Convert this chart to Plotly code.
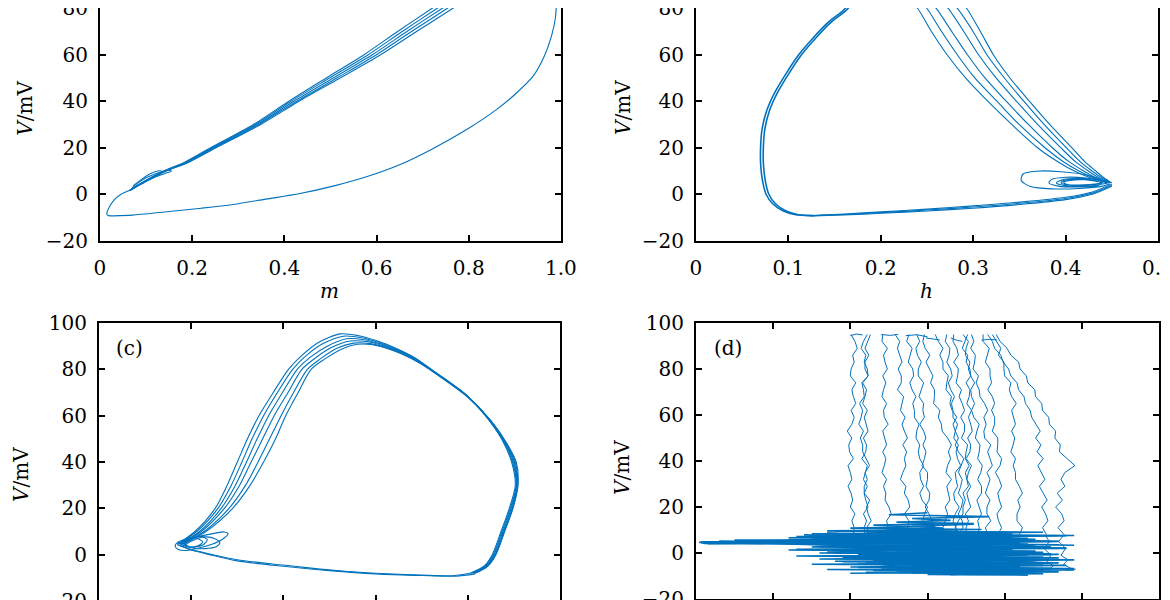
import plotly.graph_objects as go

# ---------- panel (a): V against m ----------
a_low_m = [0.030, 0.070, 0.145, 0.220, 0.289, 0.360, 0.434, 0.510, 0.578, 0.650, 0.720, 0.800, 0.860, 0.900, 0.940, 0.965, 0.980, 0.988, 0.990]
a_low_v = [-9.2, -8.9, -7.4, -5.9, -4.3, -2.0, 0.4, 3.8, 7.6, 12.8, 19.5, 28.5, 36.5, 43.0, 51.0, 60.0, 68.5, 76.0, 82.0]
a_turn_m = [0.065, 0.045, 0.030, 0.020, 0.015, 0.018, 0.030]
a_turn_v = [1.8, 0.0, -2.5, -5.5, -8.3, -9.0, -9.2]
a_up_v = [82, 80, 70, 60, 50, 40, 30, 20, 14, 10, 7, 4, 1.8]
a_up1 = [0.735, 0.720, 0.645, 0.572, 0.490, 0.409, 0.332, 0.239, 0.185, 0.137, 0.108, 0.082, 0.065]
a_up2 = [0.746, 0.731, 0.655, 0.581, 0.497, 0.414, 0.336, 0.242, 0.187, 0.139, 0.109, 0.083, 0.065]
a_up3 = [0.757, 0.742, 0.665, 0.590, 0.505, 0.420, 0.340, 0.245, 0.190, 0.140, 0.110, 0.083, 0.065]
a_up4 = [0.768, 0.753, 0.675, 0.599, 0.513, 0.426, 0.344, 0.248, 0.192, 0.141, 0.111, 0.084, 0.065]
a_up5 = [0.780, 0.765, 0.686, 0.608, 0.520, 0.431, 0.348, 0.251, 0.194, 0.143, 0.112, 0.084, 0.065]
a_loop1_m = [0.065, 0.090, 0.120, 0.145, 0.155, 0.150, 0.130, 0.100, 0.080, 0.068]
a_loop1_v = [1.8, 4.5, 7.5, 9.3, 10.0, 10.4, 9.6, 7.2, 4.6, 2.5]
a_loop2_m = [0.070, 0.095, 0.120, 0.135, 0.130, 0.110, 0.090, 0.072]
a_loop2_v = [2.5, 5.5, 8.2, 9.6, 10.2, 9.0, 6.5, 3.8]

# ---------- panel (b): V against h ----------
b_left1_h = [0.125, 0.108, 0.094, 0.083, 0.076, 0.072, 0.0700, 0.0700, 0.0715, 0.0765, 0.0855, 0.0975, 0.111, 0.126, 0.143, 0.159, 0.166]
b_left2_h = [0.127, 0.111, 0.097, 0.086, 0.079, 0.075, 0.0730, 0.0730, 0.0745, 0.0795, 0.0885, 0.1005, 0.114, 0.129, 0.146, 0.162, 0.169]
b_left_v = [-9.1, -8.7, -7.0, -4.0, 0.0, 6.0, 13.0, 21.0, 28.0, 36.0, 44.0, 52.0, 60.0, 67.0, 74.0, 79.0, 82.0]
b_right_v = [82, 80, 70, 60, 50, 40, 30, 20, 14, 10, 7, 5]
b_right1 = [0.235, 0.240, 0.255, 0.272, 0.292, 0.316, 0.342, 0.370, 0.392, 0.410, 0.428, 0.445]
b_right2 = [0.245, 0.250, 0.266, 0.283, 0.302, 0.326, 0.350, 0.378, 0.398, 0.415, 0.431, 0.446]
b_right3 = [0.255, 0.260, 0.277, 0.294, 0.313, 0.336, 0.360, 0.386, 0.404, 0.420, 0.434, 0.447]
b_right4 = [0.268, 0.273, 0.290, 0.306, 0.325, 0.347, 0.370, 0.395, 0.411, 0.425, 0.437, 0.448]
b_right5 = [0.278, 0.283, 0.300, 0.315, 0.334, 0.355, 0.377, 0.401, 0.416, 0.429, 0.440, 0.449]
b_right6 = [0.288, 0.293, 0.308, 0.322, 0.340, 0.361, 0.383, 0.407, 0.421, 0.433, 0.442, 0.450]
b_low_h = [0.450, 0.430, 0.400, 0.350, 0.300, 0.250, 0.200, 0.160, 0.135, 0.125]
b_low1_v = [4.5, 1.2, -1.2, -3.3, -4.9, -6.3, -7.5, -8.4, -8.9, -9.1]
b_low2_v = [3.5, 0.2, -2.2, -4.3, -5.9, -7.1, -8.1, -8.8, -9.1, -9.2]
b_low3_v = [4.0, 0.7, -1.7, -3.8, -5.4, -6.7, -7.8, -8.6, -9.0, -9.15]
b_sp1_h = [0.447, 0.425, 0.395, 0.368, 0.354, 0.352, 0.362, 0.385, 0.415, 0.440, 0.448]
b_sp1_v = [5.0, 8.2, 9.8, 10.0, 8.8, 6.0, 3.4, 2.4, 2.6, 3.6, 4.6]
b_sp2_h = [0.446, 0.420, 0.400, 0.385, 0.382, 0.392, 0.410, 0.435, 0.440, 0.420, 0.398, 0.390, 0.400, 0.425, 0.445]
b_sp2_v = [5.5, 7.2, 7.4, 6.5, 5.0, 3.6, 3.2, 3.8, 5.8, 6.8, 6.5, 5.0, 3.8, 3.6, 4.8]
b_sp3_h = [0.440, 0.415, 0.400, 0.395, 0.405, 0.425, 0.438, 0.430, 0.410, 0.398, 0.402, 0.420, 0.440]
b_sp3_v = [5.0, 6.6, 6.2, 5.0, 4.0, 4.0, 5.0, 6.2, 6.3, 5.3, 4.3, 4.2, 5.0]

# ---------- panel (c) ----------
c_loop_v1 = [4.5, 10, 20, 30, 40, 50, 60, 70, 80, 86, 91.5, 95.3, 94.5, 92.3, 89, 85, 80, 70, 60, 50, 40, 30, 20, 10, 0, -5, -8]
c_loop_x1 = [0.170, 0.208, 0.252, 0.278, 0.300, 0.322, 0.347, 0.378, 0.411, 0.440, 0.475, 0.523, 0.563, 0.603, 0.645, 0.685, 0.720, 0.790, 0.838, 0.873, 0.895, 0.903, 0.890, 0.872, 0.853, 0.835, 0.805]
c_loop_v2 = [4.5, 10, 20, 30, 40, 50, 60, 70, 80, 86, 91, 94.3, 93.6, 91.6, 88.5, 84.5, 79.5, 69.5, 59.5, 49.5, 40, 30, 20, 10, 0, -5, -8]
c_loop_x2 = [0.172, 0.212, 0.258, 0.287, 0.310, 0.332, 0.357, 0.387, 0.420, 0.450, 0.485, 0.530, 0.570, 0.607, 0.648, 0.688, 0.724, 0.793, 0.841, 0.876, 0.897, 0.905, 0.892, 0.874, 0.855, 0.837, 0.807]
c_loop_v3 = [4.5, 10, 20, 30, 40, 50, 60, 70, 80, 85.5, 90, 93.2, 92.8, 91, 88, 84, 79, 69, 59, 49, 40, 30, 20, 10, 0, -5, -8]
c_loop_x3 = [0.175, 0.218, 0.265, 0.296, 0.320, 0.343, 0.368, 0.398, 0.430, 0.460, 0.495, 0.537, 0.575, 0.610, 0.650, 0.690, 0.727, 0.796, 0.844, 0.879, 0.899, 0.906, 0.894, 0.876, 0.857, 0.839, 0.810]
c_loop_v4 = [4.5, 10, 20, 30, 40, 50, 60, 70, 80, 85, 89.5, 92.2, 92, 90.4, 87.5, 83.5, 78.5, 68.5, 58.5, 48.5, 40, 30, 20, 10, 0, -5, -8]
c_loop_x4 = [0.178, 0.222, 0.272, 0.305, 0.330, 0.355, 0.380, 0.410, 0.440, 0.470, 0.505, 0.545, 0.580, 0.613, 0.652, 0.692, 0.730, 0.799, 0.847, 0.882, 0.901, 0.907, 0.896, 0.878, 0.859, 0.841, 0.812]
c_loop_v5 = [4.5, 10, 20, 30, 40, 50, 60, 70, 80, 84.5, 89, 91.3, 91.2, 89.8, 87, 83, 78, 68, 58, 48, 40, 30, 20, 10, 0, -5, -8]
c_loop_x5 = [0.180, 0.228, 0.282, 0.318, 0.345, 0.370, 0.395, 0.422, 0.452, 0.480, 0.515, 0.552, 0.585, 0.616, 0.655, 0.694, 0.732, 0.801, 0.849, 0.884, 0.903, 0.908, 0.897, 0.879, 0.860, 0.842, 0.814]
c_loop_v6 = [4.5, 10, 20, 30, 40, 50, 60, 70, 80, 84.5, 88.6, 90.8, 90.7, 89.3, 86.5, 82.5, 77.5, 67.5, 57.5, 47.5, 40, 30, 20, 10, 0, -5, -8]
c_loop_x6 = [0.182, 0.232, 0.290, 0.328, 0.357, 0.383, 0.405, 0.432, 0.460, 0.490, 0.525, 0.560, 0.590, 0.620, 0.658, 0.697, 0.735, 0.803, 0.851, 0.886, 0.905, 0.909, 0.898, 0.880, 0.861, 0.843, 0.816]
c_bot1_x = [0.805, 0.765, 0.700, 0.600, 0.540, 0.450, 0.400, 0.300, 0.240, 0.200, 0.175]
c_bot1_v = [-8.0, -9.1, -8.8, -8.0, -7.3, -5.6, -4.5, -2.2, 0.3, 2.2, 4.0]
c_bot2_x = [0.816, 0.775, 0.700, 0.600, 0.500, 0.400, 0.300, 0.240, 0.200, 0.170]
c_bot2_v = [-8.3, -9.3, -9.0, -8.3, -6.9, -5.0, -2.7, 0.0, 2.0, 4.3]
c_sp1_x = [0.170, 0.190, 0.220, 0.250, 0.272, 0.280, 0.270, 0.245, 0.215, 0.190, 0.172, 0.165, 0.172, 0.195, 0.225, 0.250, 0.262, 0.255, 0.230, 0.200, 0.180, 0.170]
c_sp1_v = [4.5, 6.5, 8.0, 9.2, 9.8, 9.0, 7.0, 4.5, 2.8, 1.8, 2.2, 3.8, 5.5, 7.0, 7.8, 7.0, 5.2, 3.5, 2.6, 3.0, 4.2, 5.5]
c_sp2_x = [0.180, 0.200, 0.225, 0.235, 0.225, 0.200, 0.185, 0.190, 0.210, 0.225, 0.215, 0.195, 0.185]
c_sp2_v = [3.5, 5.8, 7.5, 6.5, 4.2, 3.2, 4.5, 6.8, 7.2, 5.5, 3.8, 3.5, 5.0]

# ---------- panel (d) ----------
d_levels = [95, 92, 89, 86, 83, 80, 77, 74, 71, 68, 65, 62, 59, 56, 53, 50, 47, 44, 41, 38, 35, 32, 29, 26, 23, 20, 17, 14, 11, 8]
d_s1 = [0.201, 0.206, 0.209, 0.203, 0.205, 0.201, 0.200, 0.207, 0.202, 0.204, 0.207, 0.201, 0.205, 0.202, 0.196, 0.202, 0.198, 0.199, 0.204, 0.197, 0.200, 0.202, 0.197, 0.201, 0.203, 0.200, 0.206, 0.202, 0.205, 0.204]
d_s2 = [0.222, 0.217, 0.214, 0.220, 0.218, 0.222, 0.223, 0.216, 0.221, 0.219, 0.216, 0.222, 0.218, 0.221, 0.223, 0.217, 0.221, 0.220, 0.215, 0.222, 0.219, 0.217, 0.222, 0.218, 0.220, 0.223, 0.217, 0.221, 0.218, 0.219]
d_s3 = [0.242, 0.241, 0.248, 0.243, 0.245, 0.248, 0.242, 0.246, 0.243, 0.241, 0.247, 0.243, 0.244, 0.249, 0.242, 0.245, 0.247, 0.242, 0.246, 0.244, 0.241, 0.247, 0.243, 0.246, 0.245, 0.250, 0.253, 0.247, 0.249, 0.245]
d_s4 = [0.258, 0.264, 0.261, 0.264, 0.267, 0.262, 0.266, 0.266, 0.261, 0.269, 0.267, 0.265, 0.271, 0.267, 0.270, 0.274, 0.268, 0.273, 0.270, 0.272, 0.268, 0.265, 0.272, 0.270, 0.275, 0.277, 0.270, 0.276, 0.274, 0.272]
d_s5 = [0.276, 0.273, 0.280, 0.278, 0.275, 0.281, 0.282, 0.277, 0.280, 0.285, 0.281, 0.283, 0.283, 0.289, 0.286, 0.285, 0.290, 0.288, 0.290, 0.295, 0.290, 0.291, 0.295, 0.290, 0.293, 0.300, 0.296, 0.294, 0.299, 0.298]
d_s6 = [0.286, 0.290, 0.285, 0.287, 0.292, 0.288, 0.288, 0.295, 0.292, 0.289, 0.295, 0.294, 0.296, 0.290, 0.295, 0.298, 0.294, 0.298, 0.296, 0.293, 0.300, 0.300, 0.298, 0.303, 0.302, 0.297, 0.302, 0.306, 0.301, 0.304]
d_s7 = [0.296, 0.294, 0.297, 0.303, 0.298, 0.303, 0.307, 0.304, 0.309, 0.309, 0.308, 0.316, 0.314, 0.318, 0.319, 0.326, 0.331, 0.327, 0.330, 0.326, 0.324, 0.331, 0.325, 0.327, 0.329, 0.323, 0.326, 0.323, 0.320, 0.326]
d_s8 = [0.310, 0.314, 0.320, 0.316, 0.320, 0.320, 0.327, 0.325, 0.324, 0.331, 0.329, 0.332, 0.338, 0.333, 0.336, 0.340, 0.336, 0.340, 0.347, 0.343, 0.340, 0.345, 0.343, 0.340, 0.346, 0.344, 0.340, 0.345, 0.346, 0.340]
d_s9 = [0.334, 0.333, 0.338, 0.340, 0.334, 0.340, 0.339, 0.337, 0.344, 0.341, 0.345, 0.348, 0.343, 0.348, 0.348, 0.344, 0.352, 0.350, 0.349, 0.354, 0.349, 0.351, 0.353, 0.346, 0.349, 0.346, 0.346, 0.340, 0.336, 0.342]
d_s10 = [0.346, 0.353, 0.350, 0.349, 0.355, 0.353, 0.356, 0.361, 0.356, 0.357, 0.361, 0.357, 0.360, 0.367, 0.364, 0.362, 0.368, 0.367, 0.365, 0.371, 0.369, 0.365, 0.370, 0.370, 0.364, 0.367, 0.370, 0.365, 0.367, 0.365]
d_s11 = [0.357, 0.360, 0.356, 0.362, 0.361, 0.359, 0.366, 0.363, 0.367, 0.368, 0.374, 0.378, 0.373, 0.376, 0.373, 0.374, 0.382, 0.378, 0.381, 0.384, 0.377, 0.381, 0.378, 0.375, 0.381, 0.377, 0.377, 0.382, 0.375, 0.378]
d_s12 = [0.372, 0.372, 0.380, 0.378, 0.375, 0.381, 0.381, 0.383, 0.378, 0.384, 0.387, 0.383, 0.387, 0.387, 0.384, 0.391, 0.391, 0.390, 0.396, 0.394, 0.388, 0.393, 0.396, 0.391, 0.393, 0.396, 0.390, 0.392, 0.396, 0.391]
d_s13 = [0.384, 0.389, 0.395, 0.392, 0.399, 0.399, 0.400, 0.408, 0.406, 0.409, 0.415, 0.409, 0.412, 0.414, 0.409, 0.413, 0.411, 0.408, 0.414, 0.411, 0.414, 0.414, 0.419, 0.423, 0.417, 0.420, 0.416, 0.416, 0.423, 0.419]
d_s14 = [0.389, 0.394, 0.403, 0.408, 0.418, 0.420, 0.428, 0.430, 0.439, 0.440, 0.448, 0.449, 0.457, 0.458, 0.466, 0.465, 0.472, 0.471, 0.481, 0.491, 0.478, 0.473, 0.478, 0.468, 0.475, 0.466, 0.474, 0.477, 0.469, 0.477]
d_s15 = [0.378, 0.384, 0.387, 0.395, 0.398, 0.405, 0.408, 0.416, 0.418, 0.425, 0.427, 0.433, 0.435, 0.441, 0.446, 0.440, 0.447, 0.442, 0.450, 0.443, 0.448, 0.452, 0.445, 0.450, 0.455, 0.448, 0.453, 0.456, 0.449, 0.454]
d_s16 = [0.325, 0.323, 0.329, 0.328, 0.325, 0.330, 0.332, 0.327, 0.330, 0.335, 0.331, 0.333, 0.333, 0.339, 0.336, 0.334, 0.340, 0.337, 0.339, 0.343, 0.336, 0.337, 0.339, 0.334, 0.335, 0.341, 0.336, 0.333, 0.337, 0.335]
d_s17 = [0.352, 0.348, 0.345, 0.352, 0.350, 0.355, 0.356, 0.350, 0.355, 0.354, 0.351, 0.357, 0.353, 0.356, 0.358, 0.352, 0.356, 0.355, 0.350, 0.357, 0.353, 0.351, 0.356, 0.351, 0.353, 0.356, 0.349, 0.353, 0.350, 0.350]
d_s18 = [0.226, 0.222, 0.219, 0.224, 0.219, 0.219, 0.223, 0.215, 0.217, 0.218, 0.212, 0.216, 0.214, 0.211, 0.217, 0.213, 0.216, 0.216, 0.221, 0.225, 0.219, 0.222, 0.218, 0.218, 0.225, 0.221, 0.223, 0.227, 0.221, 0.226]
d_tail_x = [0.477, 0.470, 0.479, 0.473, 0.482, 0.476, 0.485, 0.479, 0.492, None, 0.452, 0.458, 0.451, 0.460, 0.454, 0.463, 0.457]
d_tail_v = [8, 5, 2, -1, -3, -5, -6.5, -7.5, -7.0, None, 8, 5, 2, -1, -3.5, -5.5, -7.5]
d_tops_x = [0.200, 0.208, 0.216, None, 0.240, 0.252, 0.262, None, 0.272, 0.286, 0.300, None, 0.298, 0.307, 0.316, None, 0.330, 0.338, 0.345, None, 0.370, 0.380, 0.390]
d_tops_v = [94.5, 95.2, 94.8, None, 95.0, 94.6, 95.1, None, 94.5, 94.9, 94.0, None, 93.5, 93.0, 92.6, None, 93.5, 92.5, 92.0, None, 92.5, 92.9, 92.6]
d_blob1_x = [0.006, 0.42, 0.01, 0.47, 0.03, 0.49, 0.05, 0.44, 0.12, 0.40, 0.14, 0.46, 0.17, 0.41, 0.15, 0.48, 0.18, 0.43, 0.16, 0.47, 0.19,
             0.45, 0.20, 0.49, 0.18, 0.44, 0.21, 0.48, 0.23, 0.46, 0.24, 0.49, 0.26, 0.47, 0.28, 0.45, 0.30, 0.43, 0.31, 0.40, 0.33, 0.38]
d_blob1_v = [4.8, 4.4, 4.2, 3.6, 5.2, 3.4, 5.6, 6.0, 6.6, 7.2, 7.8, 5.0, 8.6, 8.0, 2.6, 2.0, 1.2, 0.6, 0.0, -0.6, -1.2,
             -1.8, -2.4, -3.0, -3.6, -4.2, -4.8, -5.4, -6.0, -6.6, -7.0, -7.4, -7.8, -8.2, -8.6, -9.0, -9.3, -9.6, -9.4, -9.0, -9.6, -9.2]
d_blob2_x = [0.36, 0.22, 0.45, 0.17, 0.49, 0.20, 0.42, 0.15, 0.47, 0.19, 0.44, 0.16, 0.40, 0.13, 0.46, 0.18, 0.43,
             0.12, 0.38, 0.02, 0.35, 0.008, 0.30, 0.15, 0.41, 0.18, 0.37, 0.22, 0.34, 0.25, 0.32, 0.28, 0.36, 0.26]
d_blob2_v = [-9.0, -8.4, -7.9, -7.2, -6.8, -6.1, -5.5, -4.9, -4.3, -3.8, -3.2, -2.6, -2.0, -1.3, -0.7, 0.0, 0.6,
             1.3, 1.9, 4.6, 4.9, 4.5, 5.3, 6.1, 6.8, 7.4, 8.1, 8.7, 9.4, 10.1, 10.8, 11.6, 12.5, 13.4]
d_blob3_x = [0.14, 0.30, 0.16, 0.36, 0.13, 0.27, 0.17, 0.39, 0.21, 0.33, 0.19, 0.44, 0.23, 0.35, 0.26, 0.42, 0.29,
             0.37, 0.25, 0.41, 0.28, 0.34, 0.24, 0.46, 0.27, 0.39, 0.31, 0.44, 0.29, 0.36, 0.33, 0.41, 0.30]
d_blob3_v = [3.8, 3.2, 2.7, 2.2, 1.6, 1.0, 0.4, -0.2, -0.8, -1.5, -2.1, -2.8, -3.4, -4.0, -4.7, -5.3, -5.9,
             -6.5, -7.1, -7.7, -8.3, -8.8, -5.0, -4.4, -1.0, 0.2, 2.4, 3.0, 5.8, 6.4, 7.6, 8.2, 9.0]
d_blob4_x = [0.18, 0.45, 0.21, 0.49, 0.16, 0.43, 0.22, 0.47, 0.19, 0.41, 0.25, 0.48, 0.20, 0.44, 0.27,
             0.46, 0.23, 0.40, 0.30, 0.47, 0.26, 0.42, 0.32, 0.45, 0.28, 0.39, 0.35, 0.44, 0.31, 0.41]
d_blob4_v = [9.5, 9.0, 8.2, 7.6, 7.0, 6.4, 5.8, 5.0, 4.2, 3.6, 2.8, 2.2, 1.5, 0.8, 0.2,
             -0.4, -1.0, -1.7, -2.3, -2.9, -3.5, -4.1, -4.8, -5.4, -6.0, -6.6, -7.2, -7.9, -8.5, -9.1]
d_blob5_x = [0.007, 0.26, 0.012, 0.31, 0.004, 0.22, 0.015, 0.34, 0.12, 0.39, 0.13, 0.35, 0.15,
             0.42, 0.17, 0.37, 0.20, 0.31, 0.23, 0.36, 0.26, 0.33, 0.28, 0.38, 0.25, 0.30]
d_blob5_v = [4.3, 5.0, 4.9, 4.1, 4.6, 5.4, 4.0, 4.7, 5.9, 6.4, 7.1, 7.6, 8.3,
             8.9, 9.6, 10.2, 10.8, 11.5, 12.1, 12.8, 13.4, 14.2, 15.0, 15.8, 16.6, 17.5]
d_blob6_x = [0.20, 0.44, 0.23, 0.46, 0.21, 0.42, 0.25, 0.45, 0.22, 0.40, 0.27, 0.47, 0.24, 0.43, 0.29,
             0.45, 0.26, 0.41, 0.31, 0.46, 0.28, 0.43, 0.33, 0.47, 0.30, 0.42, 0.34, 0.48]
d_blob6_v = [-8.8, -8.2, -7.6, -7.0, -6.3, -5.7, -5.1, -4.5, -3.9, -3.3, -2.7, -2.1, -1.5, -0.9, -0.3,
             0.3, 0.9, 1.5, 2.1, 2.7, 3.3, 3.9, 4.5, 5.1, 5.7, 6.3, 6.9, 7.5]

# ---------- axis ticks ----------
v_ticks = [-20, 0, 20, 40, 60, 80, 100]
m_ticks = [0, 0.2, 0.4, 0.6, 0.8, 1.0]
m_labels = ["0", "0.2", "0.4", "0.6", "0.8", "1.0"]
h_ticks = [0, 0.1, 0.2, 0.3, 0.4, 0.5]
h_labels = ["0", "0.1", "0.2", "0.3", "0.4", "0.5"]
d_ticks = [0, 0.1, 0.2, 0.3, 0.4, 0.5, 0.6]
d_labels = ["0", "0.1", "0.2", "0.3", "0.4", "0.5", "0.6"]

blue = "#0072BD"
serif = "DejaVu Serif"
fig = go.Figure()


def add_line(x, y, n, width=1.1, shape="spline"):
    sfx = "" if n == 1 else str(n)
    fig.add_trace(go.Scatter(x=x, y=y, xaxis="x" + sfx, yaxis="y" + sfx, mode="lines",
                             line=dict(color=blue, width=width, shape=shape, smoothing=0.8),
                             showlegend=False, hoverinfo="skip"))


# (a)
add_line(a_low_m, a_low_v, 1)
add_line(a_turn_m, a_turn_v, 1)
for up in [a_up1, a_up2, a_up3, a_up4, a_up5]:
    add_line(up, a_up_v, 1)
add_line(a_loop1_m, a_loop1_v, 1)
add_line(a_loop2_m, a_loop2_v, 1)

# (b)
add_line(b_left1_h, b_left_v, 2, width=1.6)
add_line(b_left2_h, b_left_v, 2, width=1.6)
for rb in [b_right1, b_right2, b_right3, b_right4, b_right5, b_right6]:
    add_line(rb, b_right_v, 2)
for lv in [b_low1_v, b_low2_v, b_low3_v]:
    add_line(b_low_h, lv, 2)
add_line(b_sp1_h, b_sp1_v, 2)
add_line(b_sp2_h, b_sp2_v, 2)
add_line(b_sp3_h, b_sp3_v, 2)

# (c)
for cx, cv in [(c_loop_x1, c_loop_v1), (c_loop_x2, c_loop_v2), (c_loop_x3, c_loop_v3),
               (c_loop_x4, c_loop_v4), (c_loop_x5, c_loop_v5), (c_loop_x6, c_loop_v6)]:
    add_line(cx, cv, 3)
add_line(c_bot1_x, c_bot1_v, 3)
add_line(c_bot2_x, c_bot2_v, 3)
add_line(c_sp1_x, c_sp1_v, 3)
add_line(c_sp2_x, c_sp2_v, 3)

# (d)
for s in [d_s1, d_s2, d_s3, d_s4, d_s5, d_s6, d_s7, d_s8, d_s9, d_s10, d_s11, d_s12,
          d_s13, d_s14, d_s15, d_s16, d_s17, d_s18]:
    add_line(s, d_levels, 4, width=1.0, shape="linear")
add_line(d_tail_x, d_tail_v, 4, width=1.0, shape="linear")
add_line(d_tops_x, d_tops_v, 4, width=1.0, shape="linear")
for bx, bv in [(d_blob1_x, d_blob1_v), (d_blob2_x, d_blob2_v), (d_blob3_x, d_blob3_v),
               (d_blob4_x, d_blob4_v), (d_blob5_x, d_blob5_v), (d_blob6_x, d_blob6_v)]:
    add_line(bx, bv, 4, width=1.6, shape="linear")

tick_font = dict(family=serif, size=20, color="black")
common = dict(showgrid=False, zeroline=False, showline=True, linecolor="black", linewidth=2,
              ticks="inside", ticklen=6, tickwidth=1.6, tickcolor="black", tickfont=tick_font,
              automargin=False, ticklabeloverflow="allow")

fig.update_layout(
    width=1170, height=600,
    margin=dict(l=0, r=0, t=0, b=0),
    paper_bgcolor="white", plot_bgcolor="white",
    template="none",
    xaxis=dict(domain=[0.0786, 0.4726], anchor="y", range=[0, 1], tickvals=m_ticks, ticktext=m_labels,
               mirror=False, ticklabelstandoff=8, **common),
    yaxis=dict(domain=[0.6117, 1.0], anchor="x", range=[-20, 80.2], tickvals=v_ticks,
               mirror="ticks", ticklabelstandoff=6, **common),
    xaxis2=dict(domain=[0.588, 0.9829], anchor="y2", range=[0, 0.5], tickvals=h_ticks, ticktext=h_labels,
                mirror=False, ticklabelstandoff=8, **common),
    yaxis2=dict(domain=[0.6117, 1.0], anchor="x2", range=[-20, 80.2], tickvals=v_ticks,
                mirror="ticks", ticklabelstandoff=6, **common),
    xaxis3=dict(domain=[0.0778, 0.4718], anchor="y3", range=[0, 1], tickvals=m_ticks, ticktext=m_labels,
                mirror="ticks", ticklabelstandoff=8, **common),
    yaxis3=dict(domain=[0.0117, 0.475], anchor="x3", range=[-20, 100], tickvals=v_ticks,
                mirror="ticks", ticklabelstandoff=6, **common),
    xaxis4=dict(domain=[0.588, 0.9838], anchor="y4", range=[0, 0.6], tickvals=d_ticks, ticktext=d_labels,
                mirror="ticks", ticklabelstandoff=8, **common),
    yaxis4=dict(domain=[0.015, 0.475], anchor="x4", range=[-20, 100], tickvals=v_ticks,
                mirror="ticks", ticklabelstandoff=6, **common),
)

label_font = dict(family=serif, size=20, color="black")
notes = [
    (16.7 / 1170, 1 - 100 / 600, "<i>V</i>/mV", -90),
    (615 / 1170, 1 - 100 / 600, "<i>V</i>/mV", -90),
    (13 / 1170, 1 - 467 / 600, "<i>V</i>/mV", -90),
    (614 / 1170, 1 - 460 / 600, "<i>V</i>/mV", -90),
    (321 / 1170, 1 - 283 / 600, "<i>m</i>", 0),
    (918 / 1170, 1 - 283 / 600, "<i>h</i>", 0),
    (121.7 / 1170, 1 - 340 / 600, "(c)", 0),
    (720 / 1170, 1 - 340 / 600, "(d)", 0),
]
for x, y, text, ang in notes:
    fig.add_annotation(x=x, y=y, xref="paper", yref="paper", text=text, textangle=ang,
                       showarrow=False, font=label_font, xanchor="center", yanchor="middle")

fig.write_html("out.html")
